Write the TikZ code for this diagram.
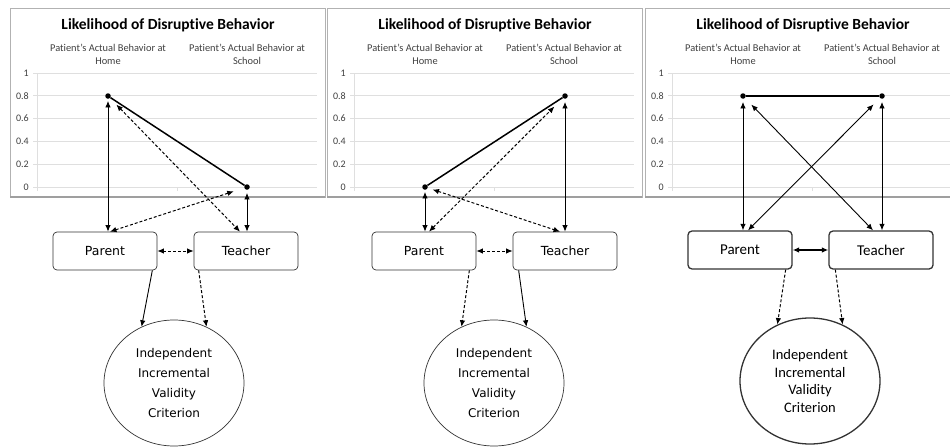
\documentclass[tikz,border=0pt]{standalone}
\usepackage{fontspec}
\setmainfont{Carlito}[Ligatures=NoCommon]
\newfontfamily\verdfont{DejaVu Sans}
\usetikzlibrary{arrows.meta,shapes.geometric}

\tikzset{
  frame/.style={draw=gray!60, line width=0.8pt},
  gridline/.style={draw=gray!25, line width=0.9pt},
  rater/.style={draw=black!80, rounded corners=4pt, minimum width=104pt,
    minimum height=38pt, line width=0.7pt, font=\verdfont\fontsize{12.5}{14}\selectfont},
  crit/.style={draw=black!80, ellipse, minimum width=140pt, minimum height=126pt,
    inner sep=0pt, align=center, line width=0.7pt,
    font=\verdfont\fontsize{12}{20}\selectfont},
  rater3/.style={rater, line width=1.3pt, font=\fontsize{15}{17}\selectfont},
  crit3/.style={crit, line width=1.3pt, font=\fontsize{14.5}{17.5}\selectfont},
  series/.style={line width=1.5pt},
  marker/.style={circle, fill, inner sep=0pt, minimum size=5.5pt},
  solidlink/.style={line width=0.9pt},
  dashlink/.style={line width=1pt, dash pattern=on 3pt off 2pt}
}

\begin{document}
\begin{tikzpicture}[x=1pt,y=-1pt,>={Latex[length=6.5pt,width=5.5pt]}]
  \clip (0,0) rectangle (950,447);

  % the three charts
  \foreach \dx in {0,317,635} {
    \begin{scope}[xshift=\dx pt]
      \fill[white] (10,8) rectangle (325,197);
      \foreach \v/\lab in {0/0,1/0.2,2/0.4,3/0.6,4/0.8,5/1} {
        \draw[gridline] (33,{187-22.8*\v}) -- (317,{187-22.8*\v});
        \node[anchor=east, font=\fontsize{10}{12}\selectfont, text=black!75, inner sep=0pt]
          at (29,{187-22.8*\v}) {\lab};
      }
      \draw[gridline] (37,73) -- (37,191);
      \draw[gridline] (177,187) -- (177,191);
      \draw[frame] (10,8) rectangle (325,197);
      \draw[gray!75, line width=1.2pt] (10,197) -- (325,197);
      \node[font=\bfseries\fontsize{15.5}{18}\selectfont] at (168,25)
        {Likelihood of Disruptive Behavior};
      \node[align=center, text=black!75, font=\fontsize{10.4}{13}\selectfont] at (108,54)
        {Patient's Actual Behavior at\\Home};
      \node[align=center, text=black!75, font=\fontsize{10.4}{13}\selectfont] at (247,54)
        {Patient's Actual Behavior at\\School};
    \end{scope}
  }

  % panel 1
  \begin{scope}
    \node[marker] (h1) at (108,96) {};
    \node[marker] (s1) at (247,187) {};
    \node[rater] (p1) at (105,251) {Parent};
    \node[rater] (t1) at (246,251) {Teacher};
    \node[crit] (c1) at (174,383) {Independent\\Incremental\\Validity\\Criterion};

    \draw[series] (h1) -- (s1);
    \draw[solidlink,<->,shorten >=2pt] (p1.north -| h1) -- (h1);
    \draw[dashlink,<->,shorten >=11pt] ([xshift=5pt]p1.north) -- (s1);
    \draw[dashlink,<->,shorten <=9pt] (h1) -- ([xshift=-6pt]t1.north);
    \draw[solidlink,<->,shorten >=3pt] (t1.north -| s1) -- (s1);
    \draw[dashlink,<->] (p1) -- (t1);
    \draw[solidlink,->] ([xshift=-5pt]p1.south east) -- (c1.120);
    \draw[dashlink,->] ([xshift=5pt]t1.south west) -- (c1.60);
  \end{scope}

  % panel 2
  \begin{scope}[xshift=317pt]
    \node[marker] (h2) at (108,187) {};
    \node[marker] (s2) at (248,96) {};
    \node[rater] (p2) at (107,251) {Parent};
    \node[rater] (t2) at (248,251) {Teacher};
    \node[crit] (c2) at (177,383) {Independent\\Incremental\\Validity\\Criterion};

    \draw[series] (h2) -- (s2);
    \draw[solidlink,<->,shorten >=2pt] (p2.north -| h2) -- (h2);
    \draw[dashlink,<->,shorten >=12pt] ([xshift=5pt]p2.north) -- (s2);
    \draw[dashlink,<->,shorten <=5pt] (h2) -- ([xshift=-5pt]t2.north);
    \draw[solidlink,<->,shorten >=3pt] (t2.north -| s2) -- (s2);
    \draw[dashlink,<->] (p2) -- (t2);
    \draw[dashlink,->] ([xshift=-7pt]p2.south east) -- (c2.120);
    \draw[solidlink,->] ([xshift=6pt]t2.south west) -- (c2.60);
  \end{scope}

  % panel 3
  \begin{scope}[xshift=635pt]
    \node[marker] (h3) at (108,96) {};
    \node[marker] (s3) at (247,96) {};
    \node[rater3] (p3) at (105,250) {Parent};
    \node[rater3] (t3) at (246,250) {Teacher};
    \node[crit3] (c3) at (175,381) {Independent\\Incremental\\Validity\\Criterion};

    \draw[series] (h3) -- (s3);
    \draw[solidlink,<->,shorten >=3pt] (p3.north -| h3) -- (h3);
    \draw[solidlink,<->,shorten >=9pt] ([xshift=8pt]p3.north) -- (s3);
    \draw[solidlink,<->,shorten <=9pt] (h3) -- ([xshift=-8pt]t3.north);
    \draw[solidlink,<->,shorten >=3pt] (t3.north -| s3) -- (s3);
    \draw[solidlink,<->,line width=1.3pt] (p3) -- (t3);
    \draw[dashlink,->] ([xshift=-7pt]p3.south east) -- (c3.120);
    \draw[dashlink,->] ([xshift=7pt]t3.south west) -- (c3.60);
  \end{scope}
\end{tikzpicture}
\end{document}
